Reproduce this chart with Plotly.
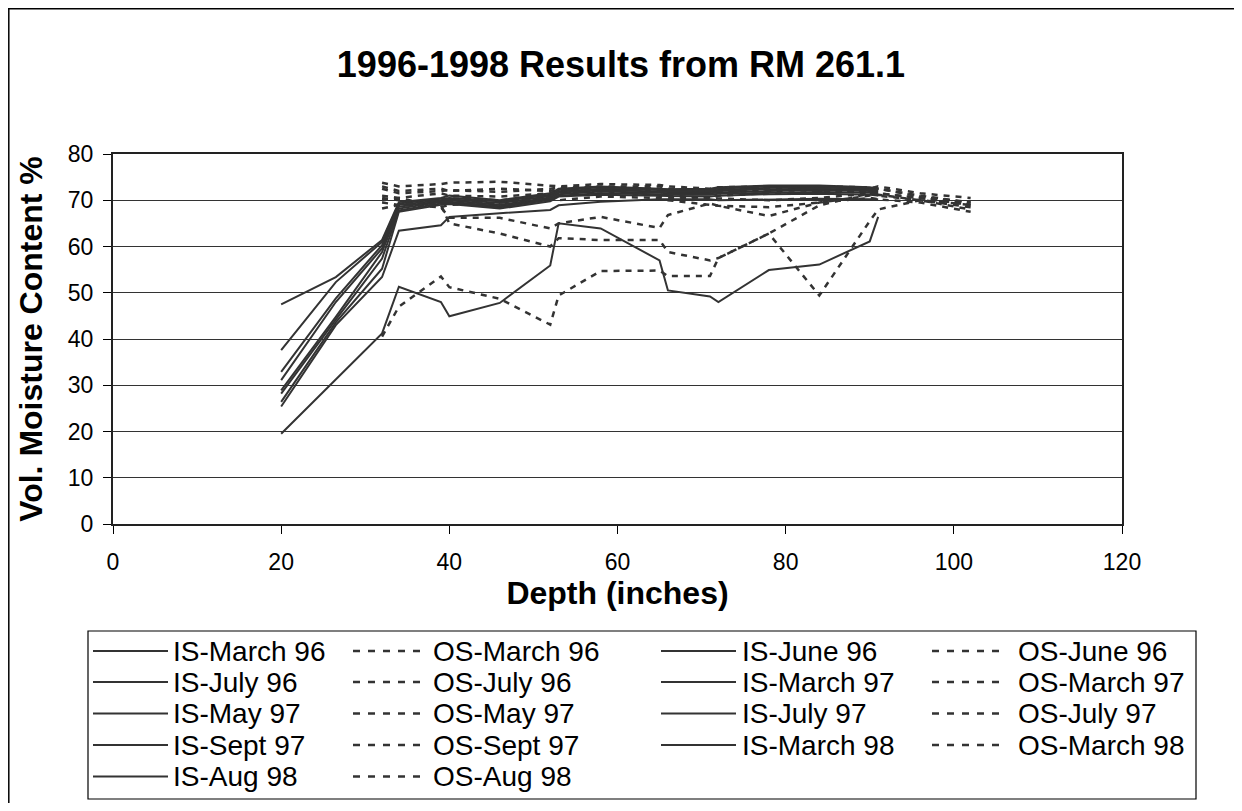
import plotly.graph_objects as go

# ---------------- data ----------------
is_depth = [20, 26.5, 32, 34, 39, 40, 46, 52, 53, 58, 65, 66, 71, 72, 78, 84, 90, 91]
os_depth = [32, 34, 39, 40, 46, 52, 53, 58, 65, 66, 71, 72, 78, 84, 90, 91, 96, 102]

is_march96 = [19.5, 31.3, 41.2, 51.3, 48.0, 44.9, 47.8, 55.9, 65.0, 63.9, 57.0, 50.5, 49.2, 48.0, 54.9, 56.1, 61.1, 66.4]
is_june96 = [25.4, 43.0, 53.4, 63.4, 64.6, 66.4, 67.2, 67.9, 68.9, 69.7, 70.2, 70.2, 70.2, 70.0, 70.2, 70.3, 70.2, 70.2]
is_july96 = [47.5, 53.4, 61.4, 69.6, 70.5, 71.0, 70.0, 71.5, 72.5, 73.0, 72.5, 72.4, 72.5, 72.8, 73.2, 73.2, 72.8, 72.5]
is_march97 = [37.6, 52.3, 61.0, 69.3, 70.3, 70.5, 69.8, 71.2, 72.2, 72.8, 72.4, 72.3, 72.3, 72.5, 73.0, 73.0, 72.6, 72.3]
is_may97 = [32.9, 48.8, 60.3, 69.0, 70.0, 70.2, 69.4, 70.9, 71.9, 72.5, 72.2, 72.0, 72.0, 72.2, 72.7, 72.8, 72.4, 72.1]
is_july97 = [31.1, 48.0, 59.6, 68.6, 69.8, 70.0, 69.0, 70.6, 71.6, 72.2, 71.9, 71.8, 71.8, 72.0, 72.4, 72.5, 72.2, 71.9]
is_sept97 = [28.9, 44.8, 58.8, 68.2, 69.6, 69.7, 68.7, 70.3, 71.3, 71.9, 71.6, 71.5, 71.5, 71.7, 72.0, 72.2, 72.0, 71.6]
is_march98 = [28.2, 44.2, 57.4, 67.8, 69.3, 69.4, 68.5, 70.1, 71.0, 71.5, 71.3, 71.2, 71.2, 71.4, 71.6, 71.8, 71.6, 71.3]
is_aug98 = [26.4, 43.6, 55.2, 67.5, 69.0, 69.2, 68.2, 69.8, 70.8, 71.2, 71.0, 70.9, 70.8, 71.0, 71.3, 71.4, 71.2, 71.0]

os_march96 = [73.8, 73.0, 73.5, 73.8, 74.0, 73.2, 73.0, 73.5, 73.3, 73.0, 72.5, 72.8, 73.0, 73.0, 72.8, 72.5, 71.0, 69.5]
os_june96 = [72.5, 71.5, 72.0, 72.2, 71.8, 72.5, 72.8, 72.8, 72.5, 72.0, 71.5, 71.8, 72.0, 72.2, 72.5, 73.0, 71.5, 70.5]
os_july96 = [71.0, 70.5, 71.5, 71.0, 70.8, 71.5, 72.0, 72.5, 72.0, 71.0, 70.5, 71.0, 71.5, 71.5, 72.0, 71.5, 70.5, 69.0]
os_march97 = [68.2, 69.0, 70.0, 70.4, 70.0, 71.0, 71.5, 72.0, 71.0, 70.5, 70.6, 70.4, 70.0, 70.5, 71.5, 71.5, 70.5, 69.0]
os_may97 = [69.5, 69.0, 68.5, 66.2, 66.2, 63.9, 65.0, 66.4, 64.0, 66.8, 69.3, 68.8, 66.6, 69.5, 71.0, 71.2, 70.0, 68.0]
os_july97 = [70.5, 70.0, 69.0, 65.0, 62.8, 60.0, 61.8, 61.4, 61.4, 58.8, 57.0, 57.5, 62.8, 68.9, 71.5, 71.0, 70.0, 68.5]
os_sept97 = [40.5, 47.0, 53.5, 51.2, 48.7, 43.1, 49.4, 54.7, 54.8, 53.6, 53.6, 57.5, 62.8, 49.4, 65.5, 68.0, 70.0, 69.0]
os_march98 = [73.0, 72.0, 72.5, 72.0, 72.5, 72.0, 72.5, 73.0, 73.0, 72.5, 72.0, 72.0, 72.5, 72.0, 72.0, 72.5, 70.8, 69.5]
os_aug98 = [70.0, 70.5, 68.5, 69.0, 69.5, 70.5, 70.0, 70.8, 70.5, 70.0, 69.0, 68.8, 68.5, 69.5, 70.5, 70.2, 69.5, 67.5]

series_names = ["IS-March 96", "OS-March 96", "IS-June 96", "OS-June 96",
                "IS-July 96", "OS-July 96", "IS-March 97", "OS-March 97",
                "IS-May 97", "OS-May 97", "IS-July 97", "OS-July 97",
                "IS-Sept 97", "OS-Sept 97", "IS-March 98", "OS-March 98",
                "IS-Aug 98", "OS-Aug 98"]
series_values = [is_march96, os_march96, is_june96, os_june96,
                 is_july96, os_july96, is_march97, os_march97,
                 is_may97, os_may97, is_july97, os_july97,
                 is_sept97, os_sept97, is_march98, os_march98,
                 is_aug98, os_aug98]

x_ticks = [0, 20, 40, 60, 80, 100, 120]
y_ticks = [0, 10, 20, 30, 40, 50, 60, 70, 80]

title_text = "1996-1998 Results from RM 261.1"
x_title = "Depth (inches)"
y_title = "Vol. Moisture Content %"

# ---------------- layout geometry ----------------
# the page places the figure 8px in from the window's top-left corner;
# the figure is sized so that the page (with its 8px margins) fits the window
OFF = 8
W, H = 1242 - 2 * OFF, 811 - 2 * OFF
L = 113 - OFF           # plot area left edge (window x = 113)
T = 154 - OFF           # plot area top edge (window y = 154)
R = W - (1122 - OFF)    # plot area right edge (window x = 1122)
B = H - (524 - OFF)     # plot area bottom edge (window y = 524)
PW = W - L - R
PH = H - T - B
FONT = "Arial, Liberation Sans, sans-serif"
LINE_COLOR = "#333333"


def xp(px):
    """window pixel x -> paper coordinate"""
    return (px - OFF - L) / PW


def yp(py):
    """window pixel y -> paper coordinate"""
    return (H - B - (py - OFF)) / PH


fig = go.Figure()
for name, vals in zip(series_names, series_values):
    inside = name.startswith("IS")
    fig.add_trace(go.Scatter(
        x=is_depth if inside else os_depth,
        y=vals,
        mode="lines",
        name=name,
        showlegend=False,
        line=dict(color=LINE_COLOR, width=2 if inside else 2.5,
                  dash="solid" if inside else "6px,6px"),
    ))

shapes = []
annotations = []

# outer chart border: only its left and top edges fall inside the window
shapes.append(dict(type="line", xref="paper", yref="paper",
                   x0=xp(OFF + 0.8), x1=xp(OFF + 0.8), y0=yp(811), y1=yp(OFF),
                   line=dict(color="#000000", width=1.5)))
shapes.append(dict(type="line", xref="paper", yref="paper",
                   x0=xp(OFF), x1=xp(1242), y0=yp(OFF + 0.8), y1=yp(OFF + 0.8),
                   line=dict(color="#000000", width=1.5)))

# legend box
shapes.append(dict(type="rect", xref="paper", yref="paper",
                   x0=xp(88), x1=xp(1196), y0=yp(799), y1=yp(631),
                   line=dict(color="#000000", width=1.2), fillcolor="rgba(0,0,0,0)"))

col_line_x = [93, 353, 661, 932]
col_text_x = [171, 431, 740, 1016]
row_y = [651, 682, 713.5, 745, 776.5]
sample_len = 75
for i, name in enumerate(series_names):
    r, c = divmod(i, 4)
    inside = name.startswith("IS")
    y = yp(row_y[r])
    shapes.append(dict(type="line", xref="paper", yref="paper",
                       x0=xp(col_line_x[c]), x1=xp(col_line_x[c] + sample_len),
                       y0=y, y1=y,
                       line=dict(color=LINE_COLOR, width=2 if inside else 2.5,
                                 dash="solid" if inside else "7px,8px")))
    annotations.append(dict(text=name, xref="paper", yref="paper",
                            x=xp(col_text_x[c]), y=y, xanchor="left", yanchor="middle",
                            showarrow=False, font=dict(family=FONT, size=28, color="#000000")))

fig.update_layout(
    width=W, height=H,
    margin=dict(l=L, r=R, t=T, b=B),
    paper_bgcolor="white",
    plot_bgcolor="white",
    font=dict(family=FONT, color="#000000"),
    title=dict(text="<b>" + title_text + "</b>", x=(621 - OFF) / W, xref="container",
               xanchor="center",
               y=1 - (64 - OFF) / H, yref="container", yanchor="middle",
               font=dict(family=FONT, size=36, color="#000000")),
    showlegend=False,
    shapes=shapes,
    annotations=annotations,
)

fig.update_xaxes(
    range=[0, 120], tickvals=x_ticks, ticktext=[str(v) for v in x_ticks],
    showgrid=False, zeroline=False,
    showline=True, mirror=True, linecolor="#222222", linewidth=2,
    ticks="outside", ticklen=8, tickwidth=1, tickcolor="#000000",
    ticklabelstandoff=8,
    tickfont=dict(family=FONT, size=23, color="#000000"),
    title=dict(text="<b>" + x_title + "</b>", standoff=8,
               font=dict(family=FONT, size=32, color="#000000")),
)
fig.update_yaxes(
    range=[0, 80], tickvals=y_ticks, ticktext=[str(v) for v in y_ticks],
    showgrid=True, gridcolor="#333333", gridwidth=1, zeroline=False,
    showline=True, mirror=True, linecolor="#222222", linewidth=2,
    ticks="outside", ticklen=8, tickwidth=1, tickcolor="#000000",
    ticklabelstandoff=5,
    tickfont=dict(family=FONT, size=23, color="#000000"),
    title=dict(text="<b>" + y_title + "</b>", standoff=16,
               font=dict(family=FONT, size=32, color="#000000")),
)

fig.write_html("out.html")
